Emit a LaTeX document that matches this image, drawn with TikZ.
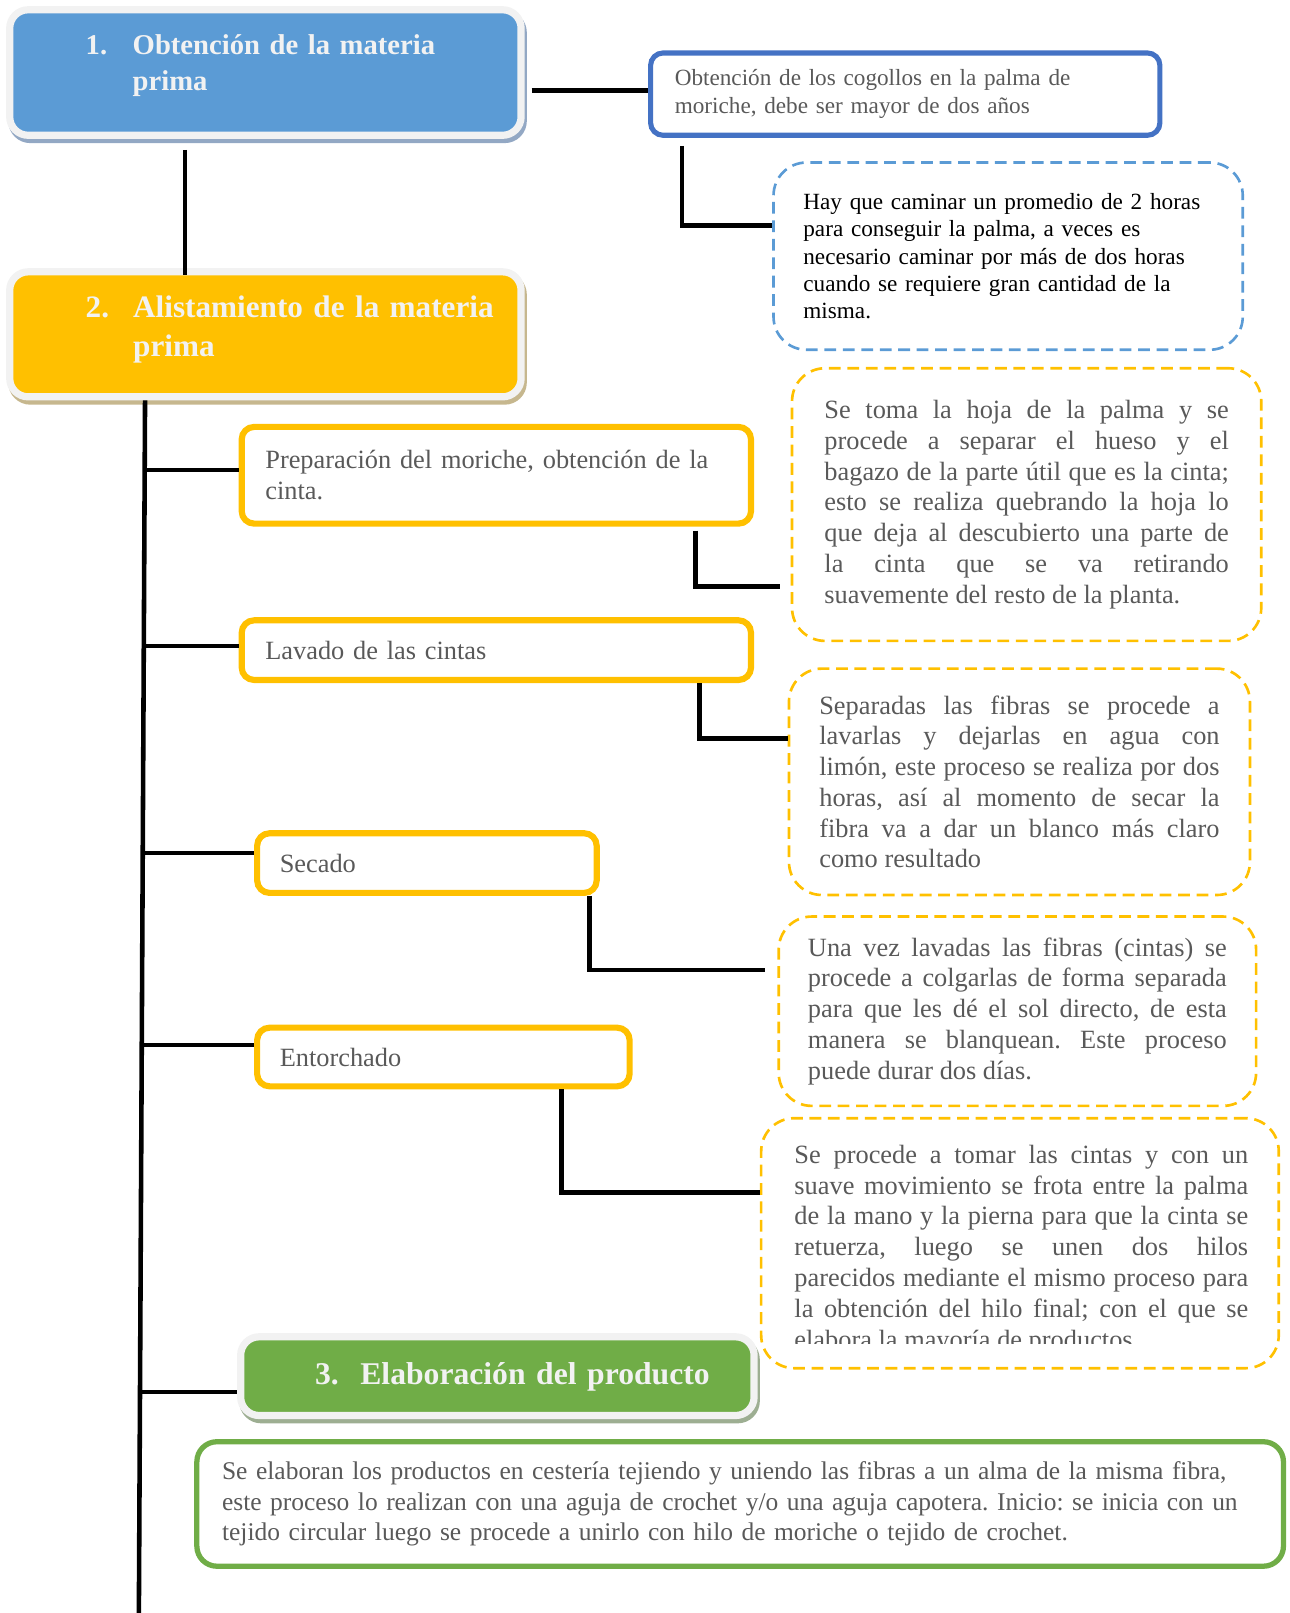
\documentclass[tikz,border=0pt]{standalone}
\usepackage{fontspec}
\setmainfont{Liberation Serif}
\frenchspacing

\definecolor{azul}{HTML}{5B9BD5}
\definecolor{azuloscuro}{HTML}{4472C4}
\definecolor{amarillo}{HTML}{FFC000}
\definecolor{verde}{HTML}{70AD47}
\definecolor{marco}{HTML}{F2F2F2}
\definecolor{sombraazul}{HTML}{93A8C4}
\definecolor{sombraamarillo}{HTML}{C6B78E}
\definecolor{sombraverde}{HTML}{9DAE92}
\definecolor{grisletra}{HTML}{595959}

\begin{document}
\begin{tikzpicture}[
    x=0.020574cm, y=-0.020574cm,
    titulo/.style={
        rounded corners=0.37cm,
        draw=marco,
        line width=4.1pt,
        inner sep=0pt,
        preaction={draw=#1, fill=#1, transform canvas={xshift=1.2pt, yshift=-2.4pt}}
    },
    titulotexto/.style={
        anchor=base west,
        inner sep=0pt,
        text width=10cm,
        align=left,
        text=marco
    },
    caja/.style={
        rounded corners=0.25cm,
        draw=amarillo,
        line width=3.5pt,
        inner sep=0pt,
        align=left,
        text=grisletra,
        font=\fontsize{15}{17.5}\selectfont
    },
    nota/.style={
        rounded corners=0.66cm,
        draw=amarillo,
        line width=1.5pt,
        dash pattern=on 6.7pt off 3.8pt,
        inner sep=0pt,
        align=justify,
        text=grisletra,
        font=\fontsize{15}{17.5}\selectfont
    },
    link/.style={
        line width=2.6pt
    }
]

\useasboundingbox (0,0) rectangle (1254,1568);

% Etapas
\node[titulo=sombraazul, fill=azul, minimum width=10.225cm, minimum height=2.51cm] (obtencion) at (258,70.5) {};
\node[titulotexto, font=\fontsize{16.3}{20.4}\selectfont\bfseries] (obtenciontexto) at (83,53)
    {\makebox[0.94cm][l]{1.}Obtención de la materia\\\hspace*{0.94cm}prima};

\node[titulo=sombraamarillo, fill=amarillo, minimum width=10.225cm, minimum height=2.5cm] (alistamiento) at (258,325) {};
\node[titulotexto, font=\fontsize{17.75}{22.1}\selectfont\bfseries] (alistamientotexto) at (83,309)
    {\makebox[0.95cm][l]{2.}Alistamiento de la materia\\\hspace*{0.95cm}prima};

\node[titulo=sombraverde, fill=verde, minimum width=10.266cm, minimum height=1.574cm] (elaboracion) at (483.5,1337.75) {};
\node[titulotexto, font=\fontsize{18}{22}\selectfont\bfseries] (elaboraciontexto) at (306,1346)
    {\makebox[0.905cm][l]{3.}Elaboración del producto};

% Obtencion
\node[caja, draw=azuloscuro, line width=2.9pt, minimum width=10.184cm, minimum height=1.646cm,
      text width=9.217cm, font=\fontsize{13.2}{15.7}\selectfont] (cogollos) at (880,91.5)
    {Obtención de los cogollos en la palma de\\moriche, debe ser mayor de dos años};
\node[nota, draw=azul, align=left, text=black, minimum width=9.382cm, minimum height=3.744cm,
      text width=8.188cm, font=\fontsize{13.2}{15.6}\selectfont] (caminata) at (980,249)
    {\mbox{Hay que caminar un promedio de 2 horas}\\para conseguir la palma, a veces es\\necesario caminar por más de dos horas\\cuando se requiere gran cantidad de la\\misma.};

% Alistamiento
\node[caja, minimum width=10.184cm, minimum height=1.934cm, text width=9.238cm] (preparacion) at (482.5,462)
    {Preparación del moriche, obtención de la\\cinta.};
\node[caja, minimum width=10.184cm, minimum height=1.193cm, text width=9.238cm] (lavado) at (482.5,632)
    {Lavado de las cintas};
\node[caja, minimum width=6.789cm, minimum height=1.193cm, text width=5.884cm] (secado) at (415,839)
    {Secado};
\node[caja, minimum width=7.448cm, minimum height=1.173cm, text width=6.543cm] (entorchado) at (431,1027.5)
    {Entorchado};

\node[nota, minimum width=9.382cm, minimum height=5.452cm, text width=8.086cm] (nota1) at (998,490.5)
    {Se toma la hoja de la palma y se\linebreak procede a separar el hueso y el\linebreak
     bagazo de la parte útil que es la cinta;\linebreak esto se realiza quebrando la hoja lo\linebreak
     que deja al descubierto una parte de\linebreak la cinta que se va retirando\linebreak
     suavemente del resto de la planta.};
\node[nota, minimum width=9.217cm, minimum height=4.526cm, text width=8.003cm] (nota2) at (991,760)
    {Separadas las fibras se procede a\linebreak lavarlas y dejarlas en agua con\linebreak
     limón, este proceso se realiza por dos\linebreak horas, así al momento de secar la\linebreak
     fibra va a dar un blanco más claro\linebreak como resultado};
\node[nota, minimum width=9.546cm, minimum height=3.786cm, text width=8.374cm] (nota3) at (989,983)
    {Una vez lavadas las fibras (cintas) se\linebreak procede a colgarlas de forma separada\linebreak
     para que les dé el sol directo, de esta\linebreak manera se blanquean. Este proceso\linebreak
     puede durar dos días.};
\node[nota, minimum width=10.349cm, minimum height=4.999cm] (nota4) at (991.5,1208.5) {};
\begin{scope}
    \clip (nota4.north west) rectangle (nota4.east |- 0,1306);
    \node[nota, draw=none, anchor=base west, text width=9.073cm] (nota4texto) at (771,1131)
        {Se procede a tomar las cintas y con un\linebreak suave movimiento se frota entre la palma\linebreak
         de la mano y la pierna para que la cinta se\linebreak retuerza, luego se unen dos hilos\linebreak
         parecidos mediante el mismo proceso para\linebreak la obtención del hilo final; con el que se\linebreak
         elabora la mayoría de productos};
\end{scope}

% Elaboracion
\node[caja, draw=verde, line width=3pt, rounded corners=0.4cm, minimum width=21.726cm, minimum height=2.489cm,
      text width=20.718cm, font=\fontsize{14.5}{17.5}\selectfont] (cesteria) at (719.5,1462)
    {Se elaboran los productos en cestería tejiendo y uniendo las fibras a un alma de la misma fibra,\\
     este proceso lo realizan con una aguja de crochet y/o una aguja capotera. Inicio: se inicia con un\\
     tejido circular luego se procede a unirlo con hilo de moriche o tejido de crochet.};

% Conectores
\coordinate (espinafin) at (135,1568);
\coordinate (ramaprep) at (141,457);
\coordinate (ramalavado) at (140,628);
\coordinate (ramasecado) at (139,829);
\coordinate (ramaentorchado) at (138,1016);
\coordinate (ramaelaboracion) at (136,1353);

\draw[link, shorten <=0.14cm] (obtencion.east |- 0,88) -- (cogollos.west |- 0,88);
\draw[link, shorten <=0.22cm, shorten >=-0.14cm] (180,0 |- obtencion.south) -- (180,0 |- alistamiento.north);
\draw[link] (141,0 |- alistamiento.south) -- (espinafin);

\draw[link] (ramaprep) -- (ramaprep -| preparacion.west);
\draw[link] (ramalavado) -- (ramalavado -| lavado.west);
\draw[link] (ramasecado) -- (ramasecado -| secado.west);
\draw[link] (ramaentorchado) -- (ramaentorchado -| entorchado.west);
\draw[link] (ramaelaboracion) -- (ramaelaboracion -| elaboracion.west);

\draw[link, shorten <=0.16cm] (663,0 |- cogollos.south) |- (caminata.west |- 0,219);
\draw[link, shorten <=0.08cm, shorten >=0.22cm] (676,0 |- preparacion.south) |- (nota1.west |- 0,570);
\draw[link] (680,0 |- lavado.south) |- (nota2.west |- 0,718);
\draw[link, shorten >=0.25cm] (573,0 |- secado.south) |- (nota3.west |- 0,943);
\draw[link] (546,0 |- entorchado.south) |- (nota4.west |- 0,1159);

\end{tikzpicture}
\end{document}
